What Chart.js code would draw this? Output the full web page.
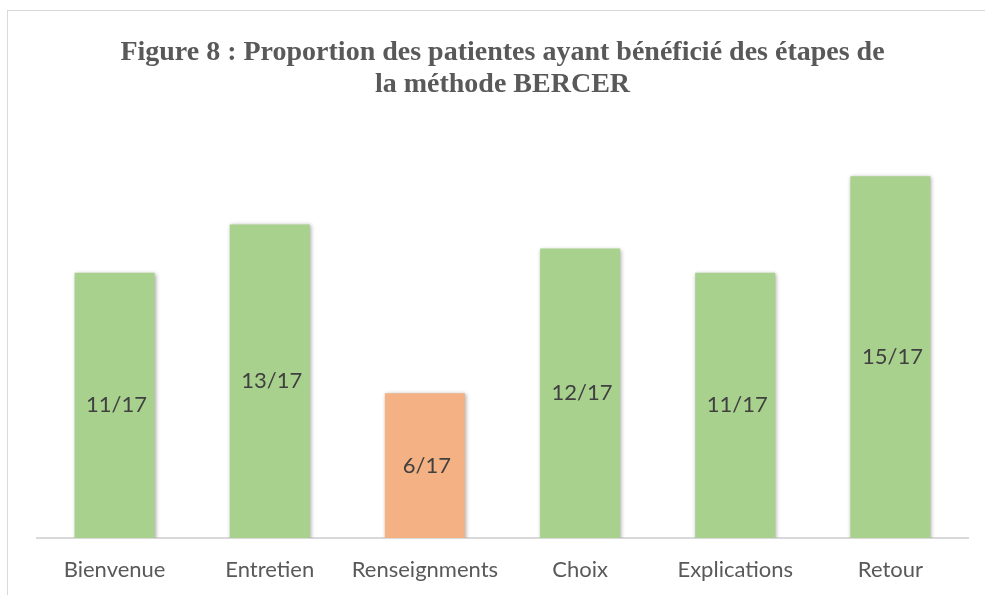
<!DOCTYPE html>
<html lang="fr">

<head>
    <meta charset="UTF-8">
    <title>Figure 8</title>
    <style>
        body { margin: 0; background: #fff; }
        #frame {
            position: absolute; left: 7px; top: 10px; width: 1000px; height: 600px;
            border-top: 1px solid #d9d9d9; border-left: 1px solid #d9d9d9;
        }
        #wrap { position: absolute; left: 0; top: 0; width: 985px; height: 595px; }
    </style>
</head>

<body>
    <div id="frame"></div>
    <div id="wrap">
        <canvas id="myChart" width="985" height="595"></canvas>
    </div>

    <script src="https://cdn.jsdelivr.net/npm/chart.js"></script>

    <script>

        // data
        var etapes = ["Bienvenue", "Entretien", "Renseignments", "Choix", "Explications", "Retour"];
        var patientes = [11, 13, 6, 12, 11, 15];
        var total = 17;
        var couleurs = ["#A9D18E", "#A9D18E", "#F4B183", "#A9D18E", "#A9D18E", "#A9D18E"];

        // shadow behind bars, like the office chart
        var barShadow = {
            id: "barShadow",
            beforeDatasetsDraw(chart) {
                var ctx = chart.ctx;
                ctx.save();
                ctx.shadowColor = "rgba(0,0,0,0.35)";
                ctx.shadowBlur = 4;
                ctx.shadowOffsetX = 1;
                ctx.shadowOffsetY = 1;
            },
            afterDatasetsDraw(chart) {
                chart.ctx.restore();
            }
        };

        // "n/17" written in the middle of each bar
        var barLabels = {
            id: "barLabels",
            afterDatasetsDraw(chart) {
                var ctx = chart.ctx;
                var meta = chart.getDatasetMeta(0);
                ctx.save();
                ctx.font = "22px Lato";
                ctx.fillStyle = "#404040";
                ctx.textAlign = "center";
                ctx.textBaseline = "middle";
                meta.data.forEach((bar, i) => {
                    var y = (bar.y + bar.base) / 2;
                    ctx.fillText(patientes[i] + "/" + total, bar.x + 2, y);
                });
                ctx.restore();
            }
        };

        var chart = new Chart("myChart", {
            type: "bar",
            data: {
                labels: etapes,
                datasets: [{
                    data: patientes,
                    backgroundColor: couleurs,
                    borderWidth: 0,
                    barPercentage: 0.516,
                    categoryPercentage: 1
                }]
            },
            options: {
                responsive: false,
                animation: false,
                layout: { padding: { left: 37, right: 17, top: 0, bottom: 0 } },
                plugins: {
                    legend: { display: false },
                    tooltip: { enabled: false },
                    title: {
                        display: true,
                        text: ["Figure 8 : Proportion des patientes ayant bénéficié des étapes de",
                               "la méthode BERCER"],
                        color: "#595959",
                        font: { family: "Liberation Serif", size: 28, weight: "bold", lineHeight: 1.143 },
                        padding: { top: 37, bottom: 51 }
                    }
                },
                scales: {
                    x: {
                        grid: { display: false, drawTicks: false },
                        border: { display: true, color: "#d9d9d9", width: 2 },
                        ticks: {
                            color: "#595959",
                            font: { family: "Lato", size: 22, lineHeight: 1 },
                            padding: 21
                        },
                        afterFit: s => { s.height = 57; }
                    },
                    y: {
                        display: false,
                        min: 0,
                        max: 16
                    }
                }
            },
            plugins: [barShadow, barLabels]
        });

    </script>
</body>

</html>
